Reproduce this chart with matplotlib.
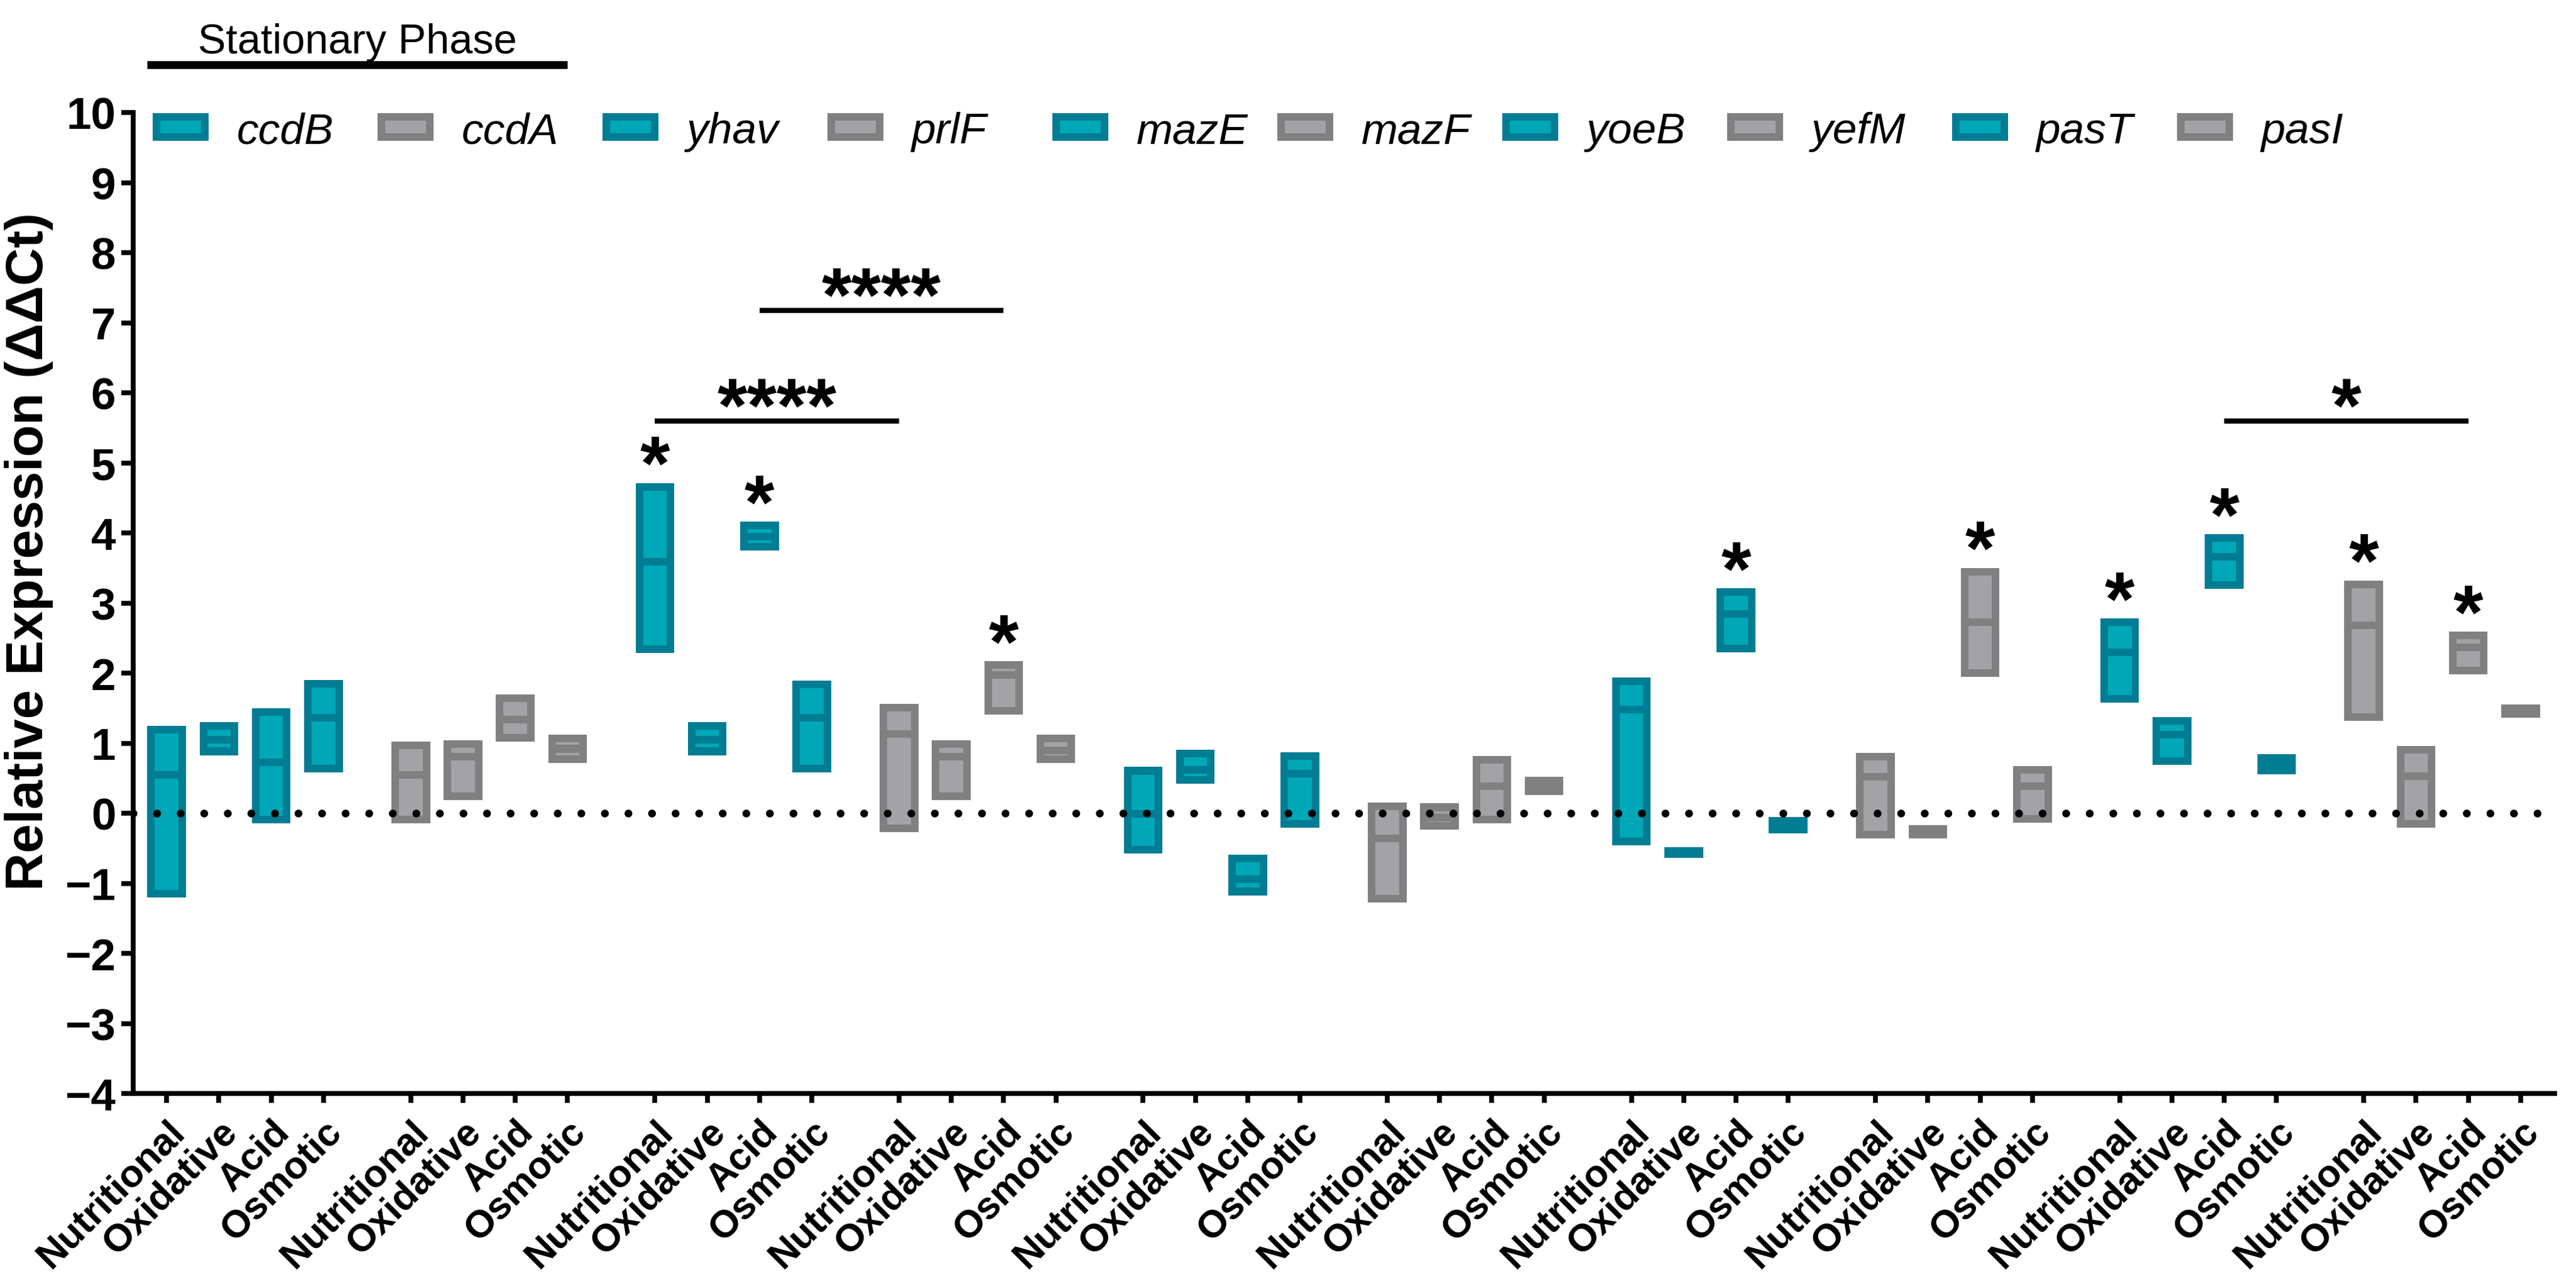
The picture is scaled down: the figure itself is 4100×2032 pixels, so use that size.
import matplotlib
matplotlib.use("Agg")
import matplotlib.pyplot as plt
from matplotlib.patches import Rectangle

plt.rcParams['font.family'] = ['Liberation Sans', 'DejaVu Sans']

genes = ['ccdB', 'ccdA', 'yhav', 'prlF', 'mazE', 'mazF', 'yoeB', 'yefM', 'pasT', 'pasI']
conditions = ['Nutritional', 'Oxidative', 'Acid', 'Osmotic']

# floating bars: min / mean / max of relative expression, one row per gene
expr_min = [
    [-1.20, 0.83, -0.14, 0.58],
    [-0.14, 0.19, 1.02, 0.72],
    [2.29, 0.83, 3.75, 0.58],
    [-0.27, 0.19, 1.41, 0.72],
    [-0.57, 0.42, -1.17, -0.21],
    [-1.27, -0.23, -0.14, 0.26],
    [-0.46, -0.64, 2.30, -0.29],
    [-0.36, -0.36, 1.95, -0.13],
    [1.58, 0.69, 3.20, 0.56],
    [1.32, -0.21, 1.98, 1.36],
]
expr_mean = [
    [0.55, 1.05, 0.73, 1.36],
    [0.55, 0.81, 1.34, 0.92],
    [3.59, 1.05, 3.95, 1.36],
    [1.13, 0.81, 1.97, 0.90],
    [-0.01, 0.62, -0.94, 0.57],
    [-0.36, -0.06, 0.39, 0.39],
    [1.48, -0.56, 2.84, -0.17],
    [0.52, -0.27, 2.73, 0.39],
    [2.30, 1.12, 3.66, 0.70],
    [2.68, 0.53, 2.37, 1.45],
]
expr_max = [
    [1.25, 1.30, 1.50, 1.90],
    [1.02, 1.04, 1.70, 1.12],
    [4.71, 1.30, 4.16, 1.89],
    [1.56, 1.04, 2.17, 1.12],
    [0.66, 0.91, -0.59, 0.87],
    [0.15, 0.14, 0.82, 0.52],
    [1.94, -0.48, 3.21, -0.05],
    [0.86, -0.17, 3.50, 0.67],
    [2.78, 1.37, 3.98, 0.84],
    [3.32, 0.96, 2.59, 1.55],
]

# (gene index, condition index) marked with a single star
single_stars = [(2, 0), (2, 2), (3, 2), (6, 2), (7, 2), (8, 0), (8, 2), (9, 0), (9, 2)]
# comparisons: (gene a, cond a, gene b, cond b, bar height, label)
comparisons = [
    (2, 0, 3, 0, 5.6, '****'),
    (2, 2, 3, 2, 7.18, '****'),
    (8, 2, 9, 2, 5.6, '*'),
]

teal_edge, teal_fill = '#007c93', '#00a7b7'
gray_edge, gray_fill = '#808080', '#a3a3a7'

W, H = 4100, 2033
fig = plt.figure(figsize=(W / 100, H / 100), dpi=100)
ax = fig.add_axes([0.0517, 0.1436, 0.940, 0.7678])

gap = 0.67
pos = [g * (4 + gap) + j for g in range(len(genes)) for j in range(len(conditions))]
bar_w = 0.74
bx, by = 0.144, 0.108   # border thickness in data units

for g in range(len(genes)):
    edge, fill = (teal_edge, teal_fill) if g % 2 == 0 else (gray_edge, gray_fill)
    for j in range(len(conditions)):
        x = pos[g * 4 + j]
        lo, mid, hi = expr_min[g][j], expr_mean[g][j], expr_max[g][j]
        ax.bar(x, hi - lo, bottom=lo, width=bar_w, color=edge, zorder=2)
        if hi - lo > 2 * by:
            ax.bar(x, hi - lo - 2 * by, bottom=lo + by, width=bar_w - 2 * bx,
                   color=fill, zorder=3)
        m0 = max(lo, mid - by / 2)
        m1 = min(hi, mid + by / 2)
        ax.bar(x, m1 - m0, bottom=m0, width=bar_w - 2 * bx, color=edge, zorder=4)

# dotted zero line
ax.axhline(0, color='black', lw=9, ls=(0, (0.001, 3.0)), dash_capstyle='round', zorder=5)

# stars: glyph centre sits about 0.63 data units above the baseline at 88 pt
star_fs = 88
star_lift = 0.63
for g, j in single_stars:
    ax.text(pos[g * 4 + j], expr_max[g][j] + 0.55 - star_lift, '*', ha='center',
            va='baseline', fontsize=star_fs, fontweight='bold')

for ga, ja, gb, jb, h, lab in comparisons:
    xa, xb = pos[ga * 4 + ja], pos[gb * 4 + jb]
    ax.plot([xa, xb], [h, h], color='black', lw=6, solid_capstyle='butt')
    ax.text((xa + xb) / 2, h + 0.49 - star_lift, lab, ha='center', va='baseline',
            fontsize=star_fs, fontweight='bold')

# axes styling
ax.set_xlim(-0.64, pos[-1] + 0.65)
ax.set_ylim(-4, 10)
ax.set_yticks(range(-4, 11))
ax.set_xticks(pos)
ax.set_xticklabels(conditions * len(genes), rotation=45, ha='right',
                   rotation_mode='anchor', fontsize=44, fontweight='bold')
for lbl in ax.get_yticklabels():
    lbl.set_fontsize(51)
    lbl.set_fontweight('bold')
ax.spines['top'].set_visible(False)
ax.spines['right'].set_visible(False)
ax.spines['left'].set_linewidth(5.5)
ax.spines['bottom'].set_linewidth(5.5)
ax.tick_params(axis='y', length=14, width=5.5, pad=6)
ax.tick_params(axis='x', length=11, width=5.5, pad=12)

ax.set_ylabel('Relative Expression (ΔΔCt)', fontsize=60, fontweight='bold')
ax.yaxis.set_label_coords(-0.033, 0.553)

# stationary phase header
x0, x1 = pos[0] - bar_w / 2, pos[7]
ax.plot([x0, x1], [10.68, 10.68], color='black', lw=9, solid_capstyle='butt', clip_on=False)
ax.text((x0 + x1) / 2, 10.85, 'Stationary Phase', ha='center', va='baseline', fontsize=48)

# legend row drawn by hand at an even spacing
leg_x0, leg_step, leg_yc = 243 / W, 358 / W, 0.900
box_w, box_h, brd = 89 / W, 44 / H, 12
leg_fs = 50
for g, gene in enumerate(genes):
    edge, fill = (teal_edge, teal_fill) if g % 2 == 0 else (gray_edge, gray_fill)
    lx = leg_x0 + g * leg_step
    fig.add_artist(Rectangle((lx, leg_yc - box_h / 2), box_w, box_h,
                             transform=fig.transFigure, facecolor=edge, edgecolor='none'))
    fig.add_artist(Rectangle((lx + brd / W, leg_yc - box_h / 2 + brd / H),
                             box_w - 2 * brd / W, box_h - 2 * brd / H,
                             transform=fig.transFigure, facecolor=fill, edgecolor='none'))
    fig.text(lx + box_w + 45 / W, leg_yc - 0.358 * leg_fs * 100 / 72 / H, gene,
             fontsize=leg_fs, style='italic', ha='left', va='baseline')

fig.savefig('out.png', dpi=100)
